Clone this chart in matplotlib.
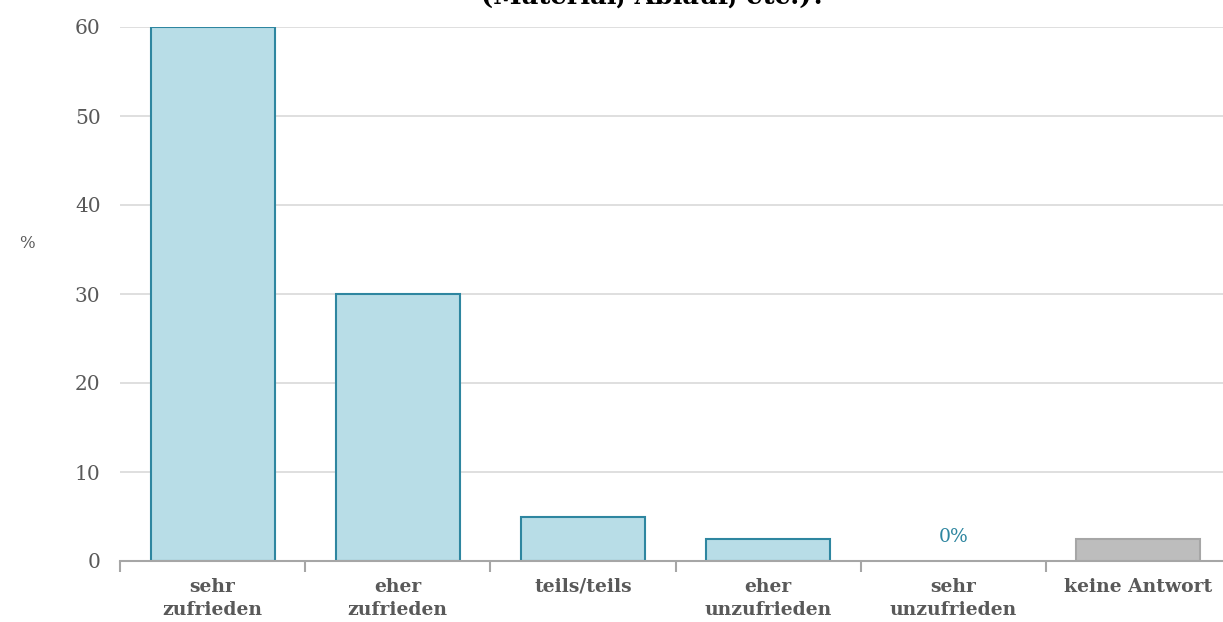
import matplotlib
matplotlib.use("Agg")
import matplotlib.pyplot as plt
from matplotlib.ticker import FixedLocator, NullFormatter

categories = ["sehr\nzufrieden", "eher\nzufrieden", "teils/teils",
              "eher\nunzufrieden", "sehr\nunzufrieden", "keine Antwort"]
values = [60, 30, 5, 2.5, 0, 2.5]
yticks = [0, 10, 20, 30, 40, 50, 60]
title = "(Material, Ablauf, etc.)?"

fill_main = "#b8dde7"
edge_main = "#2e86a0"
fill_na = "#bdbdbd"
edge_na = "#a6a6a6"
text_col = "#595959"

plt.rcParams["font.family"] = ["DejaVu Serif"]

W, H = 1223, 622
fig = plt.figure(figsize=(W / 100, H / 100), dpi=100)
left, right, bottom, top = 120, 1223, 561, 27
ax = fig.add_axes([left / W, 1 - bottom / H, (right - left) / W, (bottom - top) / H])

x = list(range(len(categories)))
fills = [fill_main] * 5 + [fill_na]
edges = [edge_main] * 5 + [edge_na]
widths = [1.5 if v > 0 else 0 for v in values]
ax.bar(x, values, width=0.67, color=fills, edgecolor=edges, linewidth=widths, zorder=3)

for xi, v in zip(x, values):
    if v == 0:
        ax.text(xi, 2.7, "0%", ha="center", va="center", color=edge_main, fontsize=13.5)

ax.set_xlim(-0.5, 5.5 - 8 / 185)
ax.set_ylim(0, 60)
ax.set_yticks(yticks)
ax.yaxis.grid(True, color="#d9d9d9", linewidth=1.2, zorder=0)
ax.set_axisbelow(True)
ax.tick_params(axis="y", length=0, labelsize=14.5, labelcolor=text_col, pad=14)

ax.set_xticks(x)
ax.set_xticklabels(categories, fontweight="bold", fontsize=13.5, color=text_col, linespacing=1.4)
ax.tick_params(axis="x", which="major", length=0, pad=12)
ax.xaxis.set_minor_locator(FixedLocator([i - 0.5 for i in range(len(categories) + 1)]))
ax.xaxis.set_minor_formatter(NullFormatter())
ax.tick_params(axis="x", which="minor", length=8, width=1.5, color="#a6a6a6", direction="out")

for s in ["top", "right", "left"]:
    ax.spines[s].set_visible(False)
ax.spines["bottom"].set_color("#a6a6a6")
ax.spines["bottom"].set_linewidth(1.5)
ax.spines["bottom"].set_zorder(4)

fig.text(27 / W, 1 - 243 / H, "%", ha="center", va="center", color=text_col, fontsize=12)
fig.text(654 / W, 1 - 4 / H, title, ha="center", va="baseline", fontsize=18.5,
         fontweight="bold", color="#000000")

fig.savefig("out.png", dpi=100)
